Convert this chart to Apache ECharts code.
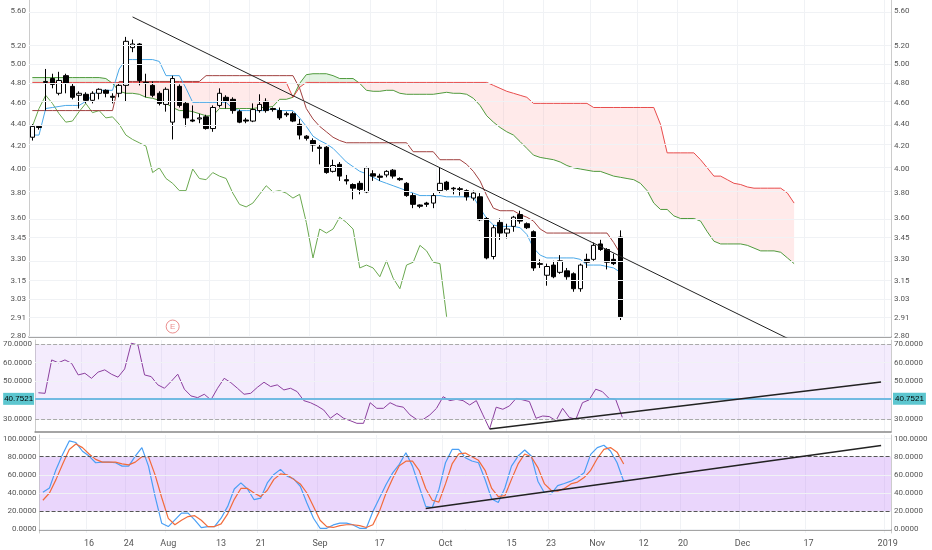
<!DOCTYPE html>
<html><head><meta charset="utf-8">
<script src="https://cdn.jsdelivr.net/npm/echarts@6/dist/echarts.min.js"></script>
<style>html,body{margin:0;padding:0;background:#fff}#c{width:932px;height:550px}</style>
</head><body><div id="c"></div>
<script>
// ---- data ----
const tickDates = ['2018-07-16','2018-07-24','2018-08-01','2018-08-13','2018-08-21','2018-09-04','2018-09-17','2018-10-01','2018-10-15','2018-10-23','2018-11-01','2018-11-12','2018-11-20','2018-12-03','2018-12-17','2019-01-02'];
const tickText = ['16','24','Aug','13','21','Sep','17','Oct','15','23','Nov','12','20','Dec','17','2019'];
const priceTicks = [2.80,2.91,3.03,3.15,3.30,3.45,3.60,3.80,4.00,4.20,4.40,4.60,4.80,5.00,5.20,5.60];
const rsiTicks = [30,50,60,70];
const stochTicks = [0,20,40,60,80,100];

const open = [4.28,4.38,4.81,4.85,4.70,4.88,4.77,4.68,4.69,4.63,4.70,4.73,4.67,4.70,4.78,5.18,5.22,4.81,4.78,4.70,4.59,4.42,4.77,4.60,4.44,4.45,4.47,4.36,4.58,4.66,4.64,4.52,4.44,4.43,4.53,4.62,4.55,4.53,4.50,4.50,4.40,4.29,4.25,4.19,4.19,
3.98,4.04,3.91,3.87,3.88,3.81,3.96,3.94,3.95,3.99,3.92,3.88,3.78,3.705,3.72,3.72,3.82,3.89,3.84,3.835,3.82,3.76,3.77,3.60,3.32,3.57,3.49,3.54,3.63,3.56,3.50,3.27,3.19,3.26,3.21,3.22,3.20,3.10,3.30,3.30,3.41,3.37,3.30,3.46];
const close = [4.38,4.37,4.82,4.79,4.83,4.80,4.66,4.70,4.63,4.70,4.74,4.70,4.66,4.78,5.25,5.22,4.83,4.80,4.68,4.60,4.74,4.85,4.58,4.46,4.43,4.46,4.36,4.56,4.70,4.62,4.53,4.42,4.43,4.54,4.59,4.53,4.54,4.46,4.49,4.43,4.30,4.27,4.21,4.18,3.97,
4.03,3.94,3.90,3.84,3.83,4.01,3.94,3.93,3.98,3.94,3.91,3.78,3.71,3.695,3.71,3.78,3.88,3.83,3.835,3.83,3.77,3.80,3.59,3.31,3.53,3.49,3.52,3.61,3.58,3.53,3.24,3.265,3.25,3.18,3.29,3.18,3.10,3.26,3.28,3.40,3.37,3.28,3.27,2.92];
const low = [4.25,4.35,4.53,4.75,4.68,4.70,4.64,4.55,4.60,4.60,4.64,4.66,4.60,4.66,4.62,5.13,4.78,4.66,4.66,4.58,4.52,4.26,4.56,4.38,4.42,4.41,4.35,4.33,4.56,4.55,4.50,4.41,4.41,4.42,4.51,4.51,4.52,4.44,4.47,4.42,4.26,4.25,4.15,4.04,3.96,
3.97,3.90,3.87,3.75,3.79,3.80,3.90,3.90,3.93,3.92,3.90,3.77,3.68,3.68,3.69,3.68,3.80,3.82,3.79,3.78,3.74,3.74,3.58,3.30,3.30,3.44,3.45,3.50,3.56,3.52,3.22,3.24,3.12,3.17,3.20,3.16,3.08,3.08,3.24,3.29,3.36,3.23,3.26,2.90];
const high = [4.40,4.39,4.95,4.90,4.92,4.90,4.80,4.72,4.71,4.72,4.75,4.74,4.70,4.80,5.30,5.27,5.23,4.90,4.82,4.72,4.76,4.88,4.79,4.62,4.58,4.50,4.49,4.58,4.75,4.68,4.66,4.54,4.46,4.60,4.69,4.65,4.56,4.56,4.52,4.52,4.45,4.30,4.27,4.22,4.20,
4.08,4.06,3.95,3.88,3.90,4.02,3.99,3.96,3.99,4.00,3.93,3.89,3.80,3.71,3.73,3.80,4.01,3.90,3.85,3.85,3.83,3.82,3.80,3.61,3.55,3.60,3.56,3.62,3.66,3.57,3.51,3.30,3.27,3.29,3.33,3.24,3.21,3.27,3.34,3.42,3.44,3.38,3.34,3.51];

const tenkan = [4.30,4.30,4.55,4.56,4.57,4.58,4.58,4.58,4.62,4.68,4.73,4.73,4.73,4.95,5.05,5.05,5.05,5.05,5.05,5.03,4.88,4.88,4.88,4.75,4.61,4.61,4.61,4.61,4.61,4.61,4.55,4.53,4.53,4.53,4.53,4.53,4.55,4.53,4.53,4.53,4.46,4.38,4.29,4.25,4.22,
4.18,4.12,4.06,4.02,3.98,3.96,3.93,3.90,3.88,3.86,3.84,3.82,3.80,3.78,3.78,3.78,3.78,3.77,3.77,3.77,3.77,3.77,3.68,3.60,3.55,3.54,3.54,3.54,3.53,3.48,3.38,3.33,3.31,3.31,3.31,3.31,3.31,3.30,3.26,3.26,3.26,3.25,3.24,3.21];
const kijun = [4.53,4.53,4.53,4.53,4.53,4.53,4.53,4.53,4.53,4.53,4.53,4.53,4.53,
4.82,4.82,4.82,4.82,4.82,4.82,4.82,4.82,4.82,4.82,4.82,4.82,4.82,
4.88,4.88,4.88,4.88,4.88,4.88,4.88,4.88,4.88,4.88,4.88,4.88,4.88,4.88,
4.75,4.55,4.45,4.38,4.33,4.28,4.25,4.23,4.23,4.23,4.23,4.23,4.23,4.23,4.23,4.23,4.23,4.15,4.15,4.15,4.15,4.08,4.08,4.08,4.08,4.04,3.98,3.90,3.78,3.68,3.66,3.66,3.66,3.63,3.61,3.58,3.52,3.49,3.49,3.49,3.49,3.49,3.49,3.49,3.49,3.49,3.49,3.42,3.34];
const chikou = [4.38,4.55,4.68,4.60,4.50,4.42,4.43,4.52,4.60,4.51,4.53,4.46,4.47,4.40,4.30,4.26,4.23,4.20,3.97,4.01,3.92,3.88,3.82,3.82,4.00,3.92,3.91,3.97,3.94,3.92,3.80,3.71,3.69,3.72,3.79,3.86,3.81,3.82,3.80,3.76,3.79,3.57,3.31,3.52,3.49,3.52,3.61,3.57,3.52,3.24,3.26,3.24,3.18,3.29,3.17,3.10,3.26,3.28,3.40,3.36,3.28,3.27,2.92];
const senkouA = [4.86,4.86,4.86,4.86,4.86,4.86,4.86,4.86,4.86,4.86,4.86,
4.85,4.80,4.72,4.70,4.70,4.69,4.66,4.65,4.63,4.60,
4.56,4.53,4.53,4.52,4.50,4.48,4.48,4.55,4.55,4.55,
4.55,4.55,4.55,4.56,4.56,4.57,4.64,4.64,4.66,4.80,
4.89,4.90,4.90,4.90,4.88,4.85,4.85,4.85,4.80,4.73,
4.72,4.72,4.73,4.73,4.70,4.69,4.69,4.69,4.69,4.69,
4.70,4.71,4.70,4.70,4.69,4.65,4.58,4.48,4.42,4.37,
4.33,4.30,4.24,4.18,4.12,4.10,4.09,4.08,4.06,4.03,
4.01,4.00,3.99,3.98,3.98,3.96,3.94,3.93,3.92,3.91,
3.88,3.82,3.72,3.67,3.67,3.62,3.60,3.60,3.60,3.58,
3.50,3.43,3.41,3.41,3.41,3.41,3.40,3.38,3.36,3.36,
3.36,3.35,3.31,3.27];
const senkouB = [4.81,4.81,4.81,4.81,4.81,4.81,4.81,4.81,4.81,4.81,4.81,4.81,4.81,4.81,4.81,4.81,4.81,4.81,4.81,4.81,
4.81,4.81,4.81,4.81,4.81,4.81,4.81,4.81,4.81,4.81,4.81,4.81,4.81,4.81,4.81,4.81,4.81,4.81,4.81,
4.66,4.76,
4.81,4.81,4.81,4.81,4.81,4.81,4.81,4.81,4.81,4.81,4.81,4.81,4.81,4.81,4.81,4.81,4.81,4.81,4.81,4.81,4.81,4.81,4.81,4.81,4.81,4.81,4.81,4.81,
4.78,4.75,4.72,4.70,4.68,4.66,4.60,
4.60,4.60,4.60,4.60,4.60,4.60,4.60,4.60,
4.56,4.56,4.56,4.56,4.56,4.56,4.56,4.56,4.56,4.56,
4.40,4.14,4.14,4.14,4.14,4.14,
4.08,4.01,3.94,3.94,3.91,3.88,3.87,3.85,
3.84,3.84,3.84,3.84,3.84,3.80,3.72];

const rsi = [44,43.7,61.5,60,61.5,59.7,53.5,54.4,51.7,55,56.2,53.9,52.3,56.7,70.4,69.5,53.5,52.6,48.2,46.4,50,53.9,45.9,42.3,41.4,43.2,40.2,46.4,51.7,49.4,46.4,43.2,43.7,46.9,49.6,47.3,48.2,45.5,46.4,44.6,39.8,38.7,37,34.8,30.4,33,30.4,29.1,27.7,27.7,38.7,35.7,35.7,38.7,37,36.3,32.2,29.8,29.8,32.2,35.7,41.9,39.8,40.5,39.8,37.5,39.8,32.2,24.7,36.3,35.2,37,41,40.2,39.3,30.4,31.6,31.3,29.1,35.7,30.9,29.8,38.7,40.2,45.9,44.6,41,40.5,30.9];
const rsiLast = 40.7521;
const stochK = [40.7,45.5,66,82.6,97.4,95.6,86,80.7,73.3,74,74,73.3,69.6,69.6,80.7,90,69.6,36.3,6.7,3,10.4,17.8,17.8,10.4,1.9,3,3,12.2,25.2,44.4,51.1,44.4,32.6,34.4,51.1,60.4,66,58.5,55.6,47.4,28.9,12.2,1.1,1.1,4.8,6.7,6.7,4.8,1.1,1.1,19.6,34.4,49.3,62.2,71.5,84.4,69.6,47.4,25.2,24,43.7,73.3,88,88,78.9,75.2,73.3,54.8,33.3,29.6,45.5,69.6,80.7,87.4,80.7,53,40,38.9,48.1,50.4,53,56.7,62.2,82.6,90,92.6,86.3,73.3,53];
const stochD = [32,40,55,72,88,94,90,83,77,74,74,74,72,71,74,80,80,60,35,12,5,10,14,15,10,3,3,6,17,33,45,45,40,36,43,55,61,60,55,50,40,25,10,3,2,4,5,5,4,2,5,20,40,56,70,75,75,65,45,32,30,50,72,83,84,80,76,65,45,36,37,55,72,83,80,68,50,43,42,45,50,52,57,65,78,88,90,85,72];

const priceTrendIdx = [15,114], priceTrendVal = [5.53,2.77];
const rsiTrendIdx = [68,127], rsiTrendVal = [24.7,49.7];
const stochTrendIdx = [58,127], stochTrendVal = [23,92.4];
const earningsIdx = 21, earningsPrice = 2.86;

// ---- build ----
const cats = [];
(function(){
  const d = new Date(Date.UTC(2018,6,5)), end = Date.UTC(2019,0,2);
  while (d.getTime() <= end) {
    const wd = d.getUTCDay(), s = d.toISOString().slice(0,10);
    if (wd !== 0 && wd !== 6 && s !== '2018-09-03') cats.push(s);
    d.setUTCDate(d.getUTCDate()+1);
  }
})();
const isTick = (i) => tickDates.indexOf(cats[i]) >= 0;
const L = Math.log;
const sparse = (idx, vals, f) => { const a = cats.map(()=>null); idx.forEach((k,j)=>a[k]=f?f(vals[j]):vals[j]); return a; };

const candles = open.map((o,i)=>[L(o),L(close[i]),L(low[i]),L(high[i])]);
const cloudBase = senkouA.map((a,i)=>Math.min(L(a),L(senkouB[i])));
const cloudRed = senkouA.map((a,i)=>Math.max(0,L(senkouB[i])-L(a)));
const cloudGreen = senkouA.map((a,i)=>Math.max(0,L(a)-L(senkouB[i])));

const font = {color:'#555', fontSize:8, fontFamily:'Roboto, sans-serif'};
const pMin = L(2.797), pMax = L(5.733);

function xAx(gi, showLabel){
  return {type:'category', gridIndex:gi, data:cats, boundaryGap:true,
    axisLine:{show:true, lineStyle:{color:'#888', width:1.5}},
    axisTick:{show:false},
    axisLabel:{show:showLabel, interval:(i)=>isTick(i), formatter:(v)=>tickText[tickDates.indexOf(v)], ...font, fontSize:9, margin:6},
    splitLine:{show:true, interval:(i)=>isTick(i), lineStyle:{color:'#f0f2f5'}}};
}
function yAx(gi, min, max, vals, fmt, pos){
  return {type:'value', gridIndex:gi, min, max, position:pos, scale:true,
    axisLine:{show:true, lineStyle:{color:'#ccc'}},
    axisTick:{show:false, customValues:vals},
    axisLabel:{customValues:vals, formatter:fmt, ...font, margin:3},
    splitLine:{show:false}};
}
const lineS = (name, x, y, data, color, w, extra) => Object.assign({name, type:'line', xAxisIndex:x, yAxisIndex:y, data, symbol:'none', lineStyle:{color, width:w||1}, silent:true, animation:false, z:3}, extra||{});
const hl = (v, color, type) => ({yAxis:v, lineStyle:{color, type, width:1}, label:{show:false}});
const gridS = (x, y, vals) => lineS('grid',x,y,[], '#000',1,{z:1, markLine:{symbol:'none',silent:true,data:vals.map(v=>hl(v,'#f0f2f5','solid'))}});

const priceFmt = (v)=>Math.exp(v).toFixed(2);
const option = {
  animation:false,
  grid:[{left:29,right:41,top:0,height:337},{left:29,right:41,top:340,height:92},{left:29,right:41,top:435,height:98}],
  xAxis:[xAx(0,false),xAx(1,false),xAx(2,true)],
  yAxis:[
    yAx(0,pMin,pMax,priceTicks.map(L),priceFmt,'left'),
    yAx(0,pMin,pMax,priceTicks.map(L),priceFmt,'right'),
    yAx(1,23.07,72.13,rsiTicks,(v)=>v.toFixed(4),'left'),
    yAx(1,23.07,72.13,rsiTicks,(v)=>v.toFixed(4),'right'),
    yAx(2,-4.1,103.9,stochTicks,(v)=>v.toFixed(4),'left'),
    yAx(2,-4.1,103.9,stochTicks,(v)=>v.toFixed(4),'right')
  ],
  series:[
    gridS(0,0,priceTicks.map(L)),
    lineS('base',0,0,cloudBase,'transparent',0,{stack:'cloud',z:2}),
    lineS('red',0,0,cloudRed,'transparent',0,{stack:'cloud',z:2,areaStyle:{color:'rgba(255,170,170,0.35)'}}),
    lineS('green',0,0,cloudGreen,'transparent',0,{stack:'cloud',z:2,areaStyle:{color:'rgba(120,200,120,0.3)'}}),
    lineS('senkouA',0,0,senkouA.map(L),'#4f9a3c',1),
    lineS('senkouB',0,0,senkouB.map(L),'#e84c4c',1),
    lineS('chikou',0,0,chikou.map(L),'#6aa84f',1),
    lineS('kijun',0,0,kijun.map(L),'#a0403f',1),
    lineS('tenkan',0,0,tenkan.map(L),'#4aa8e8',1),
    {type:'candlestick',xAxisIndex:0,yAxisIndex:0,data:candles,barWidth:5,z:4,
      itemStyle:{color:'#ffffff',color0:'#000000',borderColor:'#000',borderColor0:'#000',borderWidth:1}},
    lineS('trend',0,0,sparse(priceTrendIdx,priceTrendVal,L),'#222',1,{connectNulls:true,z:5}),
    {type:'scatter',xAxisIndex:0,yAxisIndex:0,data:[[earningsIdx,L(earningsPrice)]],symbol:'circle',symbolSize:13,z:5,
      itemStyle:{color:'#fff',borderColor:'#e57373',borderWidth:1},
      label:{show:true,position:'inside',formatter:'E',color:'#e57373',fontSize:8}},
    // RSI
    gridS(1,2,rsiTicks),
    lineS('rsiBand',1,2,[],'#000',1,{z:2,
      markArea:{silent:true,itemStyle:{color:'rgba(200,160,245,0.2)'},data:[[{yAxis:30},{yAxis:70}]]},
      markLine:{symbol:'none',silent:true,data:[
        hl(30,'#aaa','dashed'),hl(70,'#aaa','dashed'),
        {yAxis:rsiLast,lineStyle:{color:'#6ab7e0',width:1.5,type:'solid'},label:{show:true,position:'start',formatter:rsiLast.toFixed(4),backgroundColor:'#5cc6cf',color:'#000',fontSize:8,padding:[2,1],distance:1}},
        {yAxis:rsiLast,lineStyle:{color:'#6ab7e0',width:1.5,type:'solid'},label:{show:true,position:'end',formatter:rsiLast.toFixed(4),backgroundColor:'#5cc6cf',color:'#000',fontSize:8,padding:[2,2],distance:2}}
      ]}}),
    lineS('rsi',1,2,rsi,'#8b3f9e',1),
    lineS('rsiTrend',1,2,sparse(rsiTrendIdx,rsiTrendVal),'#222',1.5,{connectNulls:true,z:5}),
    // Stoch
    gridS(2,4,stochTicks),
    lineS('stochBand',2,4,[],'#000',1,{z:2,
      markArea:{silent:true,itemStyle:{color:'rgba(190,130,245,0.33)'},data:[[{yAxis:20},{yAxis:80}]]},
      markLine:{symbol:'none',silent:true,data:[hl(20,'#555','dashed'),hl(80,'#555','dashed')]}}),
    lineS('k',2,4,stochK,'#4a9ff5',1.2),
    lineS('d',2,4,stochD,'#f26b3a',1.2),
    lineS('stochTrend',2,4,sparse(stochTrendIdx,stochTrendVal),'#222',1.5,{connectNulls:true,z:5})
  ]
};
echarts.init(document.getElementById('c'),null,{renderer:'canvas'}).setOption(option);
</script></body></html>
